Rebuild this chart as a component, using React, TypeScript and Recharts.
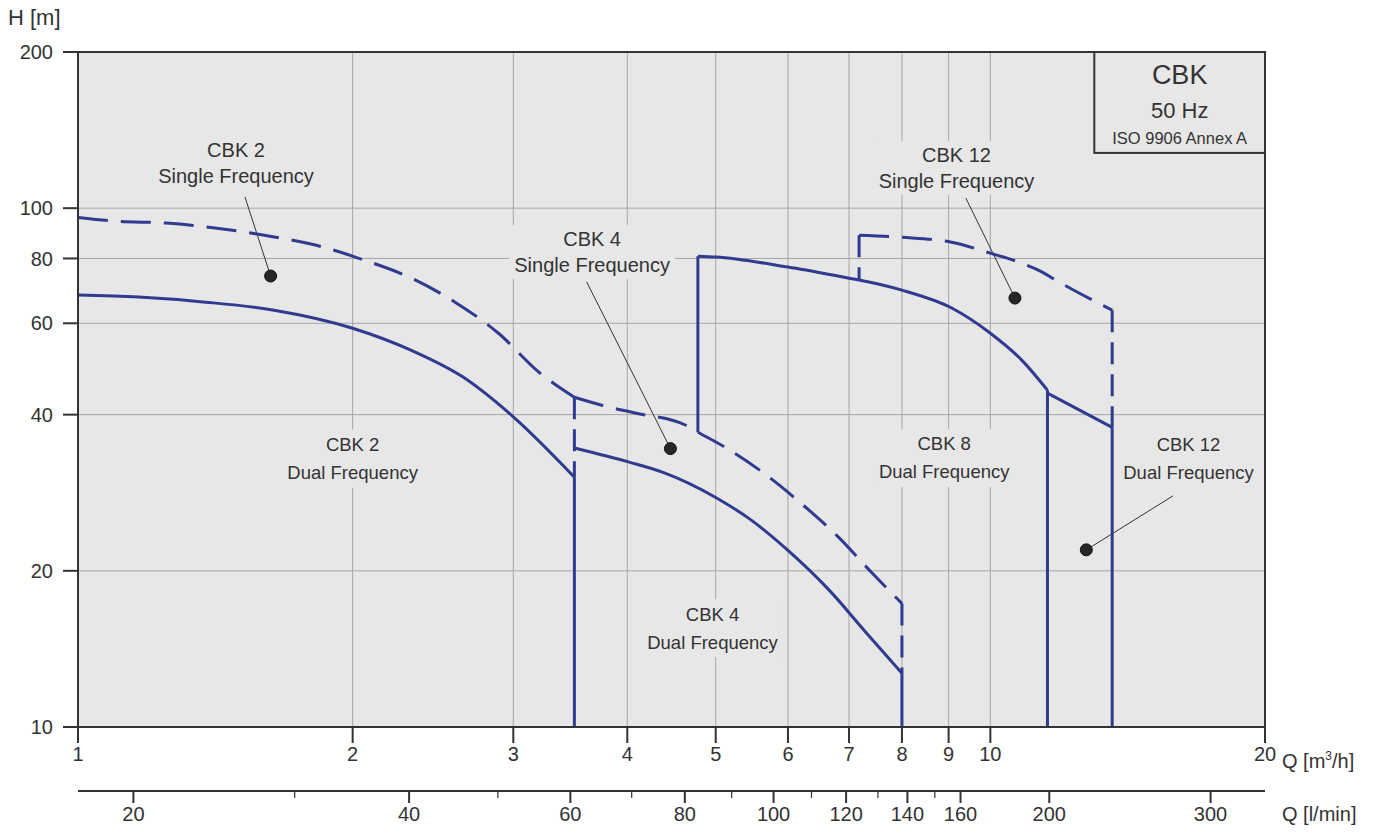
import React from "react";
import {
  LineChart,
  Line,
  XAxis,
  YAxis,
  CartesianGrid,
  ReferenceArea,
  ReferenceDot,
  ReferenceLine,
} from "recharts";

// axes
const qTicks = [1, 2, 3, 4, 5, 6, 7, 8, 9, 10, 20];
const hTicks = [10, 20, 40, 60, 80, 100, 200];
const lminTicks = [20, 30, 40, 50, 60, 70, 80, 90, 100, 110, 120, 130, 140, 150, 160, 200, 300];
const lminLabelled = [20, 40, 60, 80, 100, 120, 140, 160, 200, 300];
// l/min scale as printed under the plot
const lminRange = [17.4, 344];

// CBK 2
const cbk2SingleQ = [1, 1.1, 1.25, 1.42, 1.6, 1.82, 2.06, 2.32, 2.6, 2.89, 3.2, 3.5];
const cbk2SingleH = [96, 94.4, 93.6, 91.5, 88.7, 84.9, 79.4, 73.3, 65.6, 57.4, 48.3, 43.2];
const cbk2DualQ = [1, 1.165, 1.38, 1.64, 2.0, 2.32, 2.64, 3.0, 3.5];
const cbk2DualH = [68, 67.4, 65.9, 63.6, 58.7, 53.2, 47.3, 39.6, 30.3];

// CBK 4
const cbk4SingleQ = [3.5, 3.75, 4.08, 4.63, 4.78, 5.12, 5.68, 6.2, 6.82, 7.42, 8];
const cbk4SingleH = [43.2, 41.7, 40.3, 38.2, 37.0, 34.6, 30.6, 27.0, 23.2, 19.8, 17.3];
const cbk4DualQ = [3.5, 4.02, 4.37, 5, 5.46, 6, 6.65, 7.31, 8];
const cbk4DualH = [34.5, 32.4, 31.0, 27.7, 25.1, 21.9, 18.4, 15.2, 12.7];

// CBK 8
const cbk8DualQ = [4.78, 5, 6, 7, 7.18, 8, 9.07, 10, 10.83, 11.55];
const cbk8DualH = [80.8, 80.5, 77.0, 73.3, 72.7, 69.5, 64.2, 57.4, 50.9, 44.6];

// CBK 12
const cbk12SingleQ = [7.18, 8, 9.07, 10, 10.83, 11.4, 11.79, 13.6];
const cbk12SingleH = [88.7, 87.9, 86.0, 81.9, 78.3, 75.3, 72.7, 63.6];
const cbk12DualQ = [11.55, 13.6];
const cbk12DualH = [44.0, 37.8];

// vertical limits: [Q, H from, H to]
const dashedDrops: [number, number, number][] = [
  [3.5, 43.2, 30.3],
  [8, 17.3, 12.7],
  [7.18, 88.7, 72.7],
  [13.6, 63.6, 37.8],
];
const solidDrops: [number, number, number][] = [
  [3.5, 30.3, 10],
  [8, 12.7, 10],
  [4.78, 80.8, 37.0],
  [11.55, 44.6, 10],
  [13.6, 37.8, 10],
];

// annotations
const notes = [
  { q: 1.49, h: 122, lines: ["CBK 2", "Single Frequency"], big: true },
  { q: 2.0, h: 32.9, lines: ["CBK 2", "Dual Frequency"], big: false },
  { q: 3.66, h: 82.3, lines: ["CBK 4", "Single Frequency"], big: true },
  { q: 4.96, h: 15.5, lines: ["CBK 4", "Dual Frequency"], big: false },
  { q: 8.9, h: 33.0, lines: ["CBK 8", "Dual Frequency"], big: false },
  { q: 9.18, h: 119.6, lines: ["CBK 12", "Single Frequency"], big: true },
  { q: 16.49, h: 32.9, lines: ["CBK 12", "Dual Frequency"], big: false },
];
const pointers = [
  { from: [1.524, 105.1], to: [1.626, 74.0] },
  { from: [3.61, 72.1], to: [4.46, 34.4] },
  { from: [9.4, 104.6], to: [10.64, 67.1] },
  { from: [15.86, 27.9], to: [12.74, 21.95] },
];

const NAVY = "#2e3b8e";
const PLOT_BG = "#e7e7e7";
const GRID = "#a6a6a6";
const INK = "#333";
const FONT = '"Liberation Sans", Arial, Helvetica, sans-serif';

const zip = (qs: number[], hs: number[]) => qs.map((q, i) => ({ q, h: hs[i] }));

const curves = [
  { id: "cbk2s", data: zip(cbk2SingleQ, cbk2SingleH), dashed: true },
  { id: "cbk2d", data: zip(cbk2DualQ, cbk2DualH), dashed: false },
  { id: "cbk4s", data: zip(cbk4SingleQ, cbk4SingleH), dashed: true },
  { id: "cbk4d", data: zip(cbk4DualQ, cbk4DualH), dashed: false },
  { id: "cbk8d", data: zip(cbk8DualQ, cbk8DualH), dashed: false },
  { id: "cbk12s", data: zip(cbk12SingleQ, cbk12SingleH), dashed: true },
  { id: "cbk12d", data: zip(cbk12DualQ, cbk12DualH), dashed: false },
];

// invisible anchor so the l/min axis has something bound to it
const lminAnchor = lminTicks.map((v) => ({ q: v, h: 10 }));

const NoteLabel = ({ cx, cy, lines, big }: any) => {
  const fs = big ? 20 : 18.5;
  const lh = big ? 26 : 28;
  const w = Math.max(...lines.map((t: string) => t.length)) * fs * 0.5 + 6;
  return (
    <g>
      <rect x={cx - w / 2} y={cy - lh - 1} width={w} height={lh * 2 + 2} fill={PLOT_BG} />
      {lines.map((t: string, i: number) => (
        <text
          key={i}
          x={cx}
          y={cy - lh / 2 + i * lh}
          textAnchor="middle"
          dominantBaseline="central"
          fontSize={fs}
          fontFamily={FONT}
          fill={INK}
        >
          {t}
        </text>
      ))}
    </g>
  );
};

const InfoBox = ({ x, y, width, height }: any) => {
  const cx = x + width / 2;
  return (
    <g>
      <rect x={x} y={y} width={width} height={height} fill={PLOT_BG} stroke={INK} strokeWidth={2} />
      <text x={cx} y={y + 23} textAnchor="middle" dominantBaseline="central" fontSize={27} fontFamily={FONT} fill={INK}>
        CBK
      </text>
      <text x={cx} y={y + 58} textAnchor="middle" dominantBaseline="central" fontSize={22} fontFamily={FONT} fill={INK}>
        50 Hz
      </text>
      <text x={cx} y={y + 86} textAnchor="middle" dominantBaseline="central" fontSize={16.5} fontFamily={FONT} fill={INK}>
        ISO 9906 Annex A
      </text>
    </g>
  );
};

const LminTick = (props: any) => {
  const { x, y, payload } = props;
  const v = payload.value;
  const major = lminLabelled.includes(v);
  return (
    <g>
      <line x1={x} x2={x} y1={y} y2={y + (major ? 12 : 7)} stroke={INK} strokeWidth={major ? 2 : 1.2} />
      {major && (
        <text x={x} y={y + 30} textAnchor="middle" fontSize={20} fontFamily={FONT} fill={INK}>
          {v}
        </text>
      )}
    </g>
  );
};

const tickStyle = { fontSize: 20, fill: INK, fontFamily: FONT };
const textStyle: React.CSSProperties = {
  position: "absolute",
  fontFamily: FONT,
  color: INK,
  lineHeight: 1,
  whiteSpace: "nowrap",
};

export default function App() {
  return (
    <div style={{ position: "relative", width: 1370, height: 818 }}>
      <LineChart width={1370} height={818} margin={{ top: 44, right: 113, left: 0, bottom: 0 }}>
        <CartesianGrid fill={PLOT_BG} stroke={GRID} strokeWidth={1} />
        <XAxis
          dataKey="q"
          type="number"
          scale="log"
          domain={[1, 20]}
          ticks={qTicks}
          interval={0}
          allowDataOverflow
          height={64}
          tick={tickStyle}
          tickSize={16}
          tickMargin={4}
          axisLine={{ stroke: INK, strokeWidth: 2 }}
          tickLine={{ stroke: INK, strokeWidth: 2 }}
        />
        <XAxis
          xAxisId="lmin"
          dataKey="q"
          type="number"
          scale="log"
          domain={lminRange}
          ticks={lminTicks}
          interval={0}
          allowDataOverflow
          height={35}
          tick={(p: any) => <LminTick {...p} />}
          tickSize={0}
          tickMargin={0}
          tickLine={false}
          axisLine={{ stroke: INK, strokeWidth: 2 }}
        />
        <YAxis
          type="number"
          scale="log"
          domain={[10, 200]}
          ticks={hTicks}
          interval={0}
          allowDataOverflow
          width={70}
          tick={tickStyle}
          tickSize={15}
          tickMargin={10}
          axisLine={{ stroke: INK, strokeWidth: 2 }}
          tickLine={{ stroke: INK, strokeWidth: 2 }}
        />

        <ReferenceArea x1={1} x2={20} y1={10} y2={200} fill="none" stroke={INK} strokeWidth={2} />
        <ReferenceArea x1={13} x2={20} y1={127.8} y2={200} shape={(p: any) => <InfoBox {...p} />} />

        {notes.map((n, i) => (
          <ReferenceDot
            key={`note-${i}`}
            x={n.q}
            y={n.h}
            r={0}
            shape={(p: any) => <NoteLabel cx={p.cx} cy={p.cy} lines={n.lines} big={n.big} />}
          />
        ))}

        {pointers.map((p, i) => (
          <ReferenceLine
            key={`ptr-${i}`}
            segment={[
              { x: p.from[0], y: p.from[1] },
              { x: p.to[0], y: p.to[1] },
            ]}
            stroke={INK}
            strokeWidth={1}
          />
        ))}
        {pointers.map((p, i) => (
          <ReferenceDot key={`dot-${i}`} x={p.to[0]} y={p.to[1]} r={6} fill="#262626" stroke="#111" strokeWidth={1} />
        ))}

        <Line
          xAxisId="lmin"
          data={lminAnchor}
          dataKey="h"
          stroke="none"
          dot={false}
          activeDot={false}
          legendType="none"
          isAnimationActive={false}
        />

        {curves.map((c) => (
          <Line
            key={c.id}
            data={c.data}
            dataKey="h"
            type="monotone"
            stroke={NAVY}
            strokeWidth={3}
            strokeDasharray={c.dashed ? "30 13" : undefined}
            dot={false}
            activeDot={false}
            isAnimationActive={false}
          />
        ))}
        {dashedDrops.map(([q, a, b], i) => (
          <Line
            key={`dd-${i}`}
            data={[{ q, h: a }, { q, h: b }]}
            dataKey="h"
            type="linear"
            stroke={NAVY}
            strokeWidth={3}
            strokeDasharray="22 10"
            dot={false}
            activeDot={false}
            isAnimationActive={false}
          />
        ))}
        {solidDrops.map(([q, a, b], i) => (
          <Line
            key={`sd-${i}`}
            data={[{ q, h: a }, { q, h: b }]}
            dataKey="h"
            type="linear"
            stroke={NAVY}
            strokeWidth={3}
            dot={false}
            activeDot={false}
            isAnimationActive={false}
          />
        ))}
      </LineChart>

      <div style={{ ...textStyle, left: 0, top: -1, fontSize: 22 }}>H [m]</div>
      <div style={{ ...textStyle, left: 1274, top: 742, fontSize: 20 }}>
        Q [m<sup style={{ fontSize: 12 }}>3</sup>/h]
      </div>
      <div style={{ ...textStyle, left: 1274, top: 796, fontSize: 20 }}>Q [l/min]</div>
    </div>
  );
}
